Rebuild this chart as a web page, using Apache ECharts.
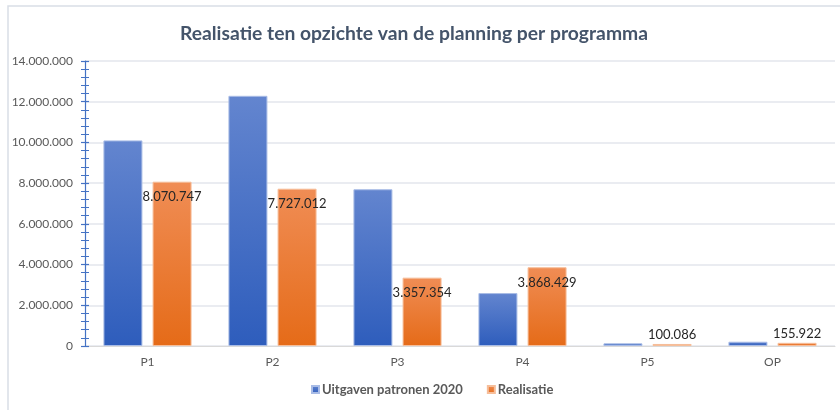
<!DOCTYPE html>
<html>
<head>
<meta charset="utf-8">
<script src="https://cdn.jsdelivr.net/npm/echarts@6/dist/echarts.min.js"></script>
<style>
  html, body { margin: 0; padding: 0; background: #fff; }
  #chart { width: 840px; height: 410px; }
</style>
</head>
<body>
<div id="chart"></div>
<script>
// categories and values
const categories = ["P1", "P2", "P3", "P4", "P5", "OP"];
const planning = [10100000, 12290000, 7700000, 2600000, 130000, 210000];
const realisatie = [8070747, 7727012, 3357354, 3868429, 100086, 155922];
const yTicks = [0, 2000000, 4000000, 6000000, 8000000, 10000000, 12000000, 14000000];

const FONT = "Lato";

function fmt(v) {
  return String(v).replace(/\B(?=(\d{3})+(?!\d))/g, ".");
}

function grad(top, bottom) {
  return new echarts.graphic.LinearGradient(0, 0, 0, 1, [
    { offset: 0, color: top },
    { offset: 1, color: bottom },
  ]);
}

// small bars get their label above, big ones inside the top
const realisatieData = realisatie.map((v) => ({
  value: v,
  label: v < 1000000 ? { position: "top", distance: 3 } : { position: "insideTop", distance: 9 },
}));

const chart = echarts.init(document.getElementById("chart"));

const yBase = {
  type: "value",
  min: yTicks[0],
  max: yTicks[yTicks.length - 1],
  interval: 2000000,
  position: "left",
};

chart.setOption({
  animation: false,
  textStyle: { fontFamily: FONT },
  title: {
    text: "Realisatie ten opzichte van de planning per programma",
    left: 175,
    top: 19,
    textStyle: { fontFamily: FONT, fontSize: 19.3, fontWeight: "bold", color: "#44546A" },
  },
  graphic: [
    {
      type: "rect",
      shape: { x: 8, y: 6, width: 900, height: 500 },
      style: { fill: "none", stroke: "#D9DEE6", lineWidth: 1.5 },
      silent: true,
    },
  ],
  legend: {
    bottom: 9,
    left: 306,
    itemWidth: 7,
    itemHeight: 7,
    itemGap: 24,
    icon: "rect",
    textStyle: { fontFamily: FONT, fontSize: 13, fontWeight: "bold", color: "#595959", padding: [0, 0, 0, -2] },
    data: ["Uitgaven patronen 2020", "Realisatie"],
  },
  grid: { left: 85, right: 5, top: 61, bottom: 64 },
  xAxis: {
    type: "category",
    data: categories,
    axisLine: { lineStyle: { color: "#D9D9D9", width: 1 } },
    axisTick: { show: false },
    axisLabel: { color: "#595959", fontSize: 12, margin: 10, fontFamily: FONT },
  },
  yAxis: [
    Object.assign({}, yBase, {
      axisLine: { show: true, lineStyle: { color: "#4472C4", width: 1.2 } },
      axisTick: { show: true, length: 4, lineStyle: { color: "#4472C4", width: 1.2 } },
      minorTick: { show: true, splitNumber: 5, length: 4, lineStyle: { color: "#4472C4" } },
      axisLabel: {
        color: "#595959",
        fontSize: 12,
        margin: 12,
        fontFamily: FONT,
        formatter: (v) => fmt(v),
      },
      splitLine: { lineStyle: { color: "#E3E6EC", width: 1.5 } },
    }),
    Object.assign({}, yBase, {
      axisLine: { show: false },
      axisTick: { show: true, inside: true, length: 4, lineStyle: { color: "#4472C4", width: 1.2 } },
      minorTick: { show: true, splitNumber: 5, length: 4, lineStyle: { color: "#4472C4" } },
      axisLabel: { show: false },
      splitLine: { show: false },
    }),
  ],
  series: [
    {
      name: "Uitgaven patronen 2020",
      type: "bar",
      data: planning,
      barWidth: 39,
      barGap: "26%",
      itemStyle: {
        color: grad("#6385CF", "#2E5DBC"),
        borderColor: "#A9BCE6",
        borderWidth: 1,
      },
    },
    {
      name: "Realisatie",
      type: "bar",
      data: realisatieData,
      barWidth: 39,
      itemStyle: {
        color: grad("#F08D55", "#E56B18"),
        borderColor: "#F6BE9A",
        borderWidth: 1,
      },
      label: {
        show: true,
        color: "#262626",
        fontSize: 13,
        fontFamily: FONT,
        formatter: (p) => fmt(p.value),
      },
    },
  ],
});
</script>
</body>
</html>
